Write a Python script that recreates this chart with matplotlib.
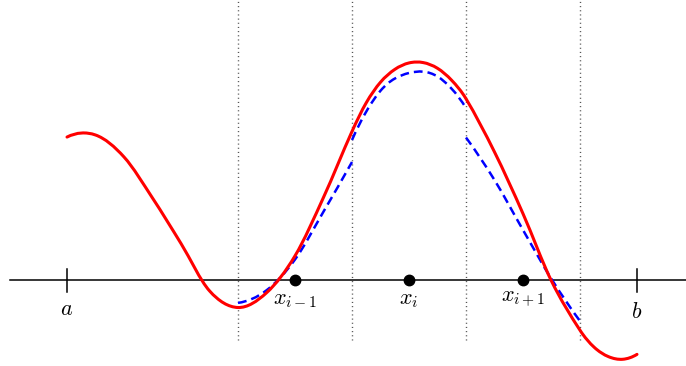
import numpy as np
import matplotlib.pyplot as plt
from matplotlib.path import Path
from matplotlib.patches import PathPatch

plt.rcParams['mathtext.fontset'] = 'cm'

# grid: nodes x_{i-1}, x_i, x_{i+1} at unit spacing, cell faces halfway between
nodes = [-1.0, 0.0, 1.0]
node_labels = [r'$x_{i-1}$', r'$x_i$', r'$x_{i+1}$']
faces = [-1.5, -0.5, 0.5, 1.5]
a, b = -3.0, 2.0

# exact function u(x)
u_x = [-3.0, -2.75, -2.5, -2.25, -2.0, -1.75, -1.5, -1.25, -1.0, -0.75,
       -0.5, -0.375, -0.25, -0.125, 0.0, 0.125, 0.25, 0.375, 0.5, 0.75,
       1.0, 1.25, 1.5, 1.625, 1.75, 1.875, 2.0]
u_y = [1.254, 1.272, 1.079, 0.719, 0.320, -0.095, -0.241, -0.112, 0.212,
       0.725, 1.303, 1.555, 1.735, 1.847, 1.904, 1.907, 1.857, 1.751, 1.590,
       1.123, 0.582, -0.009, -0.440, -0.590, -0.672, -0.695, -0.652]

# piecewise reconstruction in the three cells
rec_x = [
    [-1.5, -1.25, -1.0, -0.75, -0.5],
    [-0.5, -0.25, 0.0, 0.25, 0.5],
    [0.5, 0.75, 1.0, 1.25, 1.5],
]
rec_y = [
    [-0.20, -0.09, 0.18, 0.60, 1.035],
    [1.228, 1.660, 1.816, 1.785, 1.509],
    [1.25, 0.877, 0.439, 0.009, -0.36],
]


def smooth_path(xs, ys):
    # cubic Hermite segments between the given points, tangents from neighbours
    xs = np.asarray(xs, float)
    ys = np.asarray(ys, float)
    n = len(xs)
    m = np.empty(n)
    m[1:-1] = (ys[2:] - ys[:-2]) / (xs[2:] - xs[:-2])
    m[0] = 2 * (ys[1] - ys[0]) / (xs[1] - xs[0]) - m[1]
    m[-1] = 2 * (ys[-1] - ys[-2]) / (xs[-1] - xs[-2]) - m[-2]
    verts = [(xs[0], ys[0])]
    codes = [Path.MOVETO]
    for i in range(n - 1):
        h = (xs[i + 1] - xs[i]) / 3
        verts += [(xs[i] + h, ys[i] + m[i] * h),
                  (xs[i + 1] - h, ys[i + 1] - m[i + 1] * h),
                  (xs[i + 1], ys[i + 1])]
        codes += [Path.CURVE4] * 3
    return Path(verts, codes)


fig = plt.figure(figsize=(6.86, 3.66), dpi=100)
ax = fig.add_axes([0, 0, 1, 1])
ax.set_xlim(-3.588, 2.430)
ax.set_ylim(-0.754, 2.456)
ax.axis('off')

for f in faces:
    ax.plot([f, f], [-0.53, 2.456], color='#555555', lw=1.0,
            dashes=(0.8, 2.2), zorder=1)

ax.plot([-3.5, 2.43], [0, 0], color='black', lw=1.1, zorder=2)
for t, lab, off in [(a, r'$a$', -0.165), (b, r'$b$', -0.19)]:
    ax.plot([t, t], [-0.105, 0.095], color='black', lw=1.1, zorder=2)
    ax.text(t, off, lab, ha='center', va='top', fontsize=16)

for xs, ys in zip(rec_x, rec_y):
    ax.add_patch(PathPatch(smooth_path(xs, ys), fill=False, edgecolor='blue',
                           lw=1.8, linestyle=(0, (3.5, 2.0)), zorder=3))

ax.add_patch(PathPatch(smooth_path(u_x, u_y), fill=False, edgecolor='red',
                       lw=2.2, zorder=4, capstyle='round'))

ax.plot(nodes, [0] * len(nodes), 'o', color='black', ms=7.5, zorder=5)
for x, lab in zip(nodes, node_labels):
    ax.text(x, -0.085, lab, ha='center', va='top', fontsize=16)

fig.savefig('out.png', dpi=100)
